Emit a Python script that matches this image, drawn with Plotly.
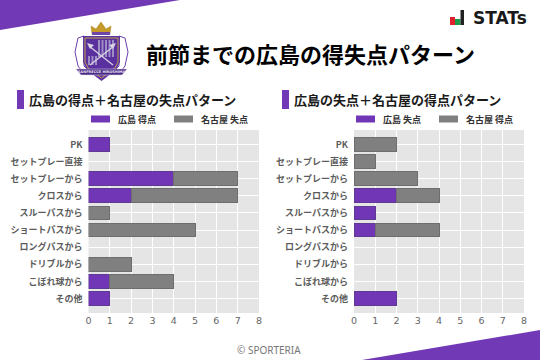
import plotly.graph_objects as go

W, H = 540, 360
categories = ["PK", "セットプレー直接", "セットプレーから", "クロスから", "スルーパスから",
              "ショートパスから", "ロングパスから", "ドリブルから", "こぼれ球から", "その他"]
left_hiroshima = [1, 0, 4, 2, 0, 0, 0, 0, 1, 1]
left_nagoya = [0, 0, 3, 5, 1, 5, 0, 2, 3, 0]
right_hiroshima = [0, 0, 0, 2, 1, 1, 0, 0, 0, 2]
right_nagoya = [2, 1, 3, 2, 0, 3, 0, 0, 0, 0]
x_ticks = [0, 1, 2, 3, 4, 5, 6, 7, 8]

PURPLE = "#7036b6"
PURPLE_EDGE = "#5f3a94"
GRAY = "#808080"
GRAY_EDGE = "#6e6e6e"
BANNER = "#7139b5"
JP = "Noto Sans CJK JP"


def px(x):
    return x / W


def py(y):
    return 1 - y / H


def path(points, close=True):
    s = "M " + " L ".join(f"{px(x):.5f},{py(y):.5f}" for x, y in points)
    return s + (" Z" if close else "")


shapes, annotations = [], []


def poly(points, fill, line=None, width=0, close=True):
    shapes.append(dict(type="path", xref="paper", yref="paper", path=path(points, close),
                       fillcolor=fill if close else "rgba(0,0,0,0)",
                       line=dict(color=line or fill, width=width), layer="above"))


def rect(x0, y0, x1, y1, fill, line=None, width=0):
    poly([(x0, y0), (x1, y0), (x1, y1), (x0, y1)], fill, line, width)


def text(x, y, s, size, color="#000", family=JP, bold=False, anchor="left"):
    annotations.append(dict(xref="paper", yref="paper", x=px(x), y=py(y), text=f"<b>{s}</b>" if bold else s,
                            showarrow=False, xanchor=anchor, yanchor="middle", xshift=0,
                            font=dict(size=size, color=color, family=family), borderpad=0))


# corner banners
poly([(0, 0), (180, 0), (0, 30)], BANNER)
poly([(362, 360), (540, 330), (540, 360)], BANNER)

# crest
poly([(78, 38), (84, 36), (84, 66), (90, 72), (84, 74), (78, 66), (75, 52)], "#ffffff", "#6b3fa8", 1)
poly([(125, 38), (119, 36), (119, 66), (113, 72), (119, 74), (125, 66), (128, 52)], "#ffffff", "#6b3fa8", 1)
poly([(92, 34), (91, 26), (96, 29), (101, 22), (106, 29), (111, 26), (110, 34)], "#c49a2a", "#a98420", 0.5)
rect(92, 32, 110, 35, "#6f45a8")
shield = [(83, 36), (120, 36), (120, 62), (116, 70), (101.5, 81), (87, 70), (83, 62)]
poly(shield, "#5f34a3")
inner = [(85, 38), (118, 38), (118, 62), (114.5, 68.5), (101.5, 78), (88.5, 68.5), (85, 62)]
poly(inner, "#5a2f9e", "#bda04a", 1)
for bx in (98, 101.5, 105, 108.5, 112):
    rect(bx, 40, bx + 2, 57, "#9d8fc4")
for bx in (88, 91.5, 95):
    rect(bx, 56, bx + 2, 65, "#9d8fc4")
for a, b in (((89, 46), (113, 65)), ((114, 46), (90, 65))):
    poly([a, b], "#d8d4e2", "#d8d4e2", 1.3, close=False)
poly([(87, 43), (94, 45), (90, 49)], "#d8d4e2")
poly([(116, 43), (109, 45), (113, 49)], "#d8d4e2")
poly([(76, 69), (127, 69), (122, 75), (81, 75)], "#4b2a86", "#e4dff0", 0.5)
text(101.5, 72, "SANFRECCE HIROSHIMA", 3.5, "#e8e4f2", "DejaVu Sans", True, "center")

# STATs logo
rect(450, 17, 455, 25, "#e0202c")
rect(455, 19, 460.5, 25, "#1c9a4a")
rect(460.5, 10, 464, 25, "#222222")
text(471.5, 17.5, "STATs", 17, "#1a1a1a", "DejaVu Sans", True)

# headings
text(145, 53, "前節までの広島の得失点パターン", 22, "#000", JP, True)
rect(17, 90, 24, 109, BANNER)
rect(282, 90, 289, 109, BANNER)
text(28, 99.5, "広島の得点＋名古屋の失点パターン", 13, "#1a1a1a", JP, True)
text(293, 99.5, "広島の失点＋名古屋の得点パターン", 13, "#1a1a1a", JP, True)

# legends
for sx, gx, t1, t2 in ((91, 174, "広島 得点", "名古屋 失点"), (356, 439, "広島 失点", "名古屋 得点")):
    rect(sx, 115.5, sx + 19, 122.5, PURPLE)
    rect(gx, 115.5, gx + 19, 122.5, GRAY)
    text(sx + 25.5, 119.5, t1, 9, "#333", JP, True)
    text(gx + 26, 119.5, t2, 9, "#333", JP, True)

text(269, 350, "© SPORTERIA", 10, "#777", "Noto Sans", anchor="center")


def nz(values):
    return [v if v else None for v in values]


fig = go.Figure()
for xa, h, n, hname, nname in (("x", left_hiroshima, left_nagoya, "広島 得点", "名古屋 失点"),
                               ("x2", right_hiroshima, right_nagoya, "広島 失点", "名古屋 得点")):
    ya = "y" if xa == "x" else "y2"
    fig.add_bar(x=nz(h), y=categories, orientation="h", xaxis=xa, yaxis=ya, name=hname, width=0.8,
                marker=dict(color=PURPLE, line=dict(color=PURPLE_EDGE, width=1)))
    fig.add_bar(x=nz(n), y=categories, orientation="h", xaxis=xa, yaxis=ya, name=nname, width=0.8,
                marker=dict(color=GRAY, line=dict(color=GRAY_EDGE, width=1)))

xaxis_style = dict(range=[0, 8], tickvals=x_ticks, ticks="", showline=False, zeroline=False,
                   showgrid=True, gridcolor="#ffffff", gridwidth=1,
                   tickfont=dict(size=9.5, color="#666", family="DejaVu Sans"))
yaxis_style = dict(type="category", categoryorder="array", categoryarray=categories, range=[9.84, -0.84],
                   ticks="", showline=False, zeroline=False, showgrid=True, gridcolor="#ffffff", gridwidth=1,
                   ticklabelstandoff=5,
                   tickfont=dict(size=9, color="#5c5c5c", family=JP, weight="bold"))

fig.update_layout(
    width=W, height=H, autosize=False, margin=dict(l=0, r=0, t=0, b=0, pad=0, autoexpand=False),
    paper_bgcolor="#ffffff",
    plot_bgcolor="#e5e5e5", barmode="stack", showlegend=False, shapes=shapes, annotations=annotations,
    xaxis=dict(domain=[px(88.5), px(259)], anchor="y", **xaxis_style),
    yaxis=dict(domain=[py(313), py(130)], anchor="x", **yaxis_style),
    xaxis2=dict(domain=[px(354), px(524)], anchor="y2", **xaxis_style),
    yaxis2=dict(domain=[py(313), py(130)], anchor="x2", **yaxis_style),
)
fig.write_html("out.html", config={"displayModeBar": False},
               post_script="document.body.style.margin='0';document.documentElement.style.overflow='hidden';")
